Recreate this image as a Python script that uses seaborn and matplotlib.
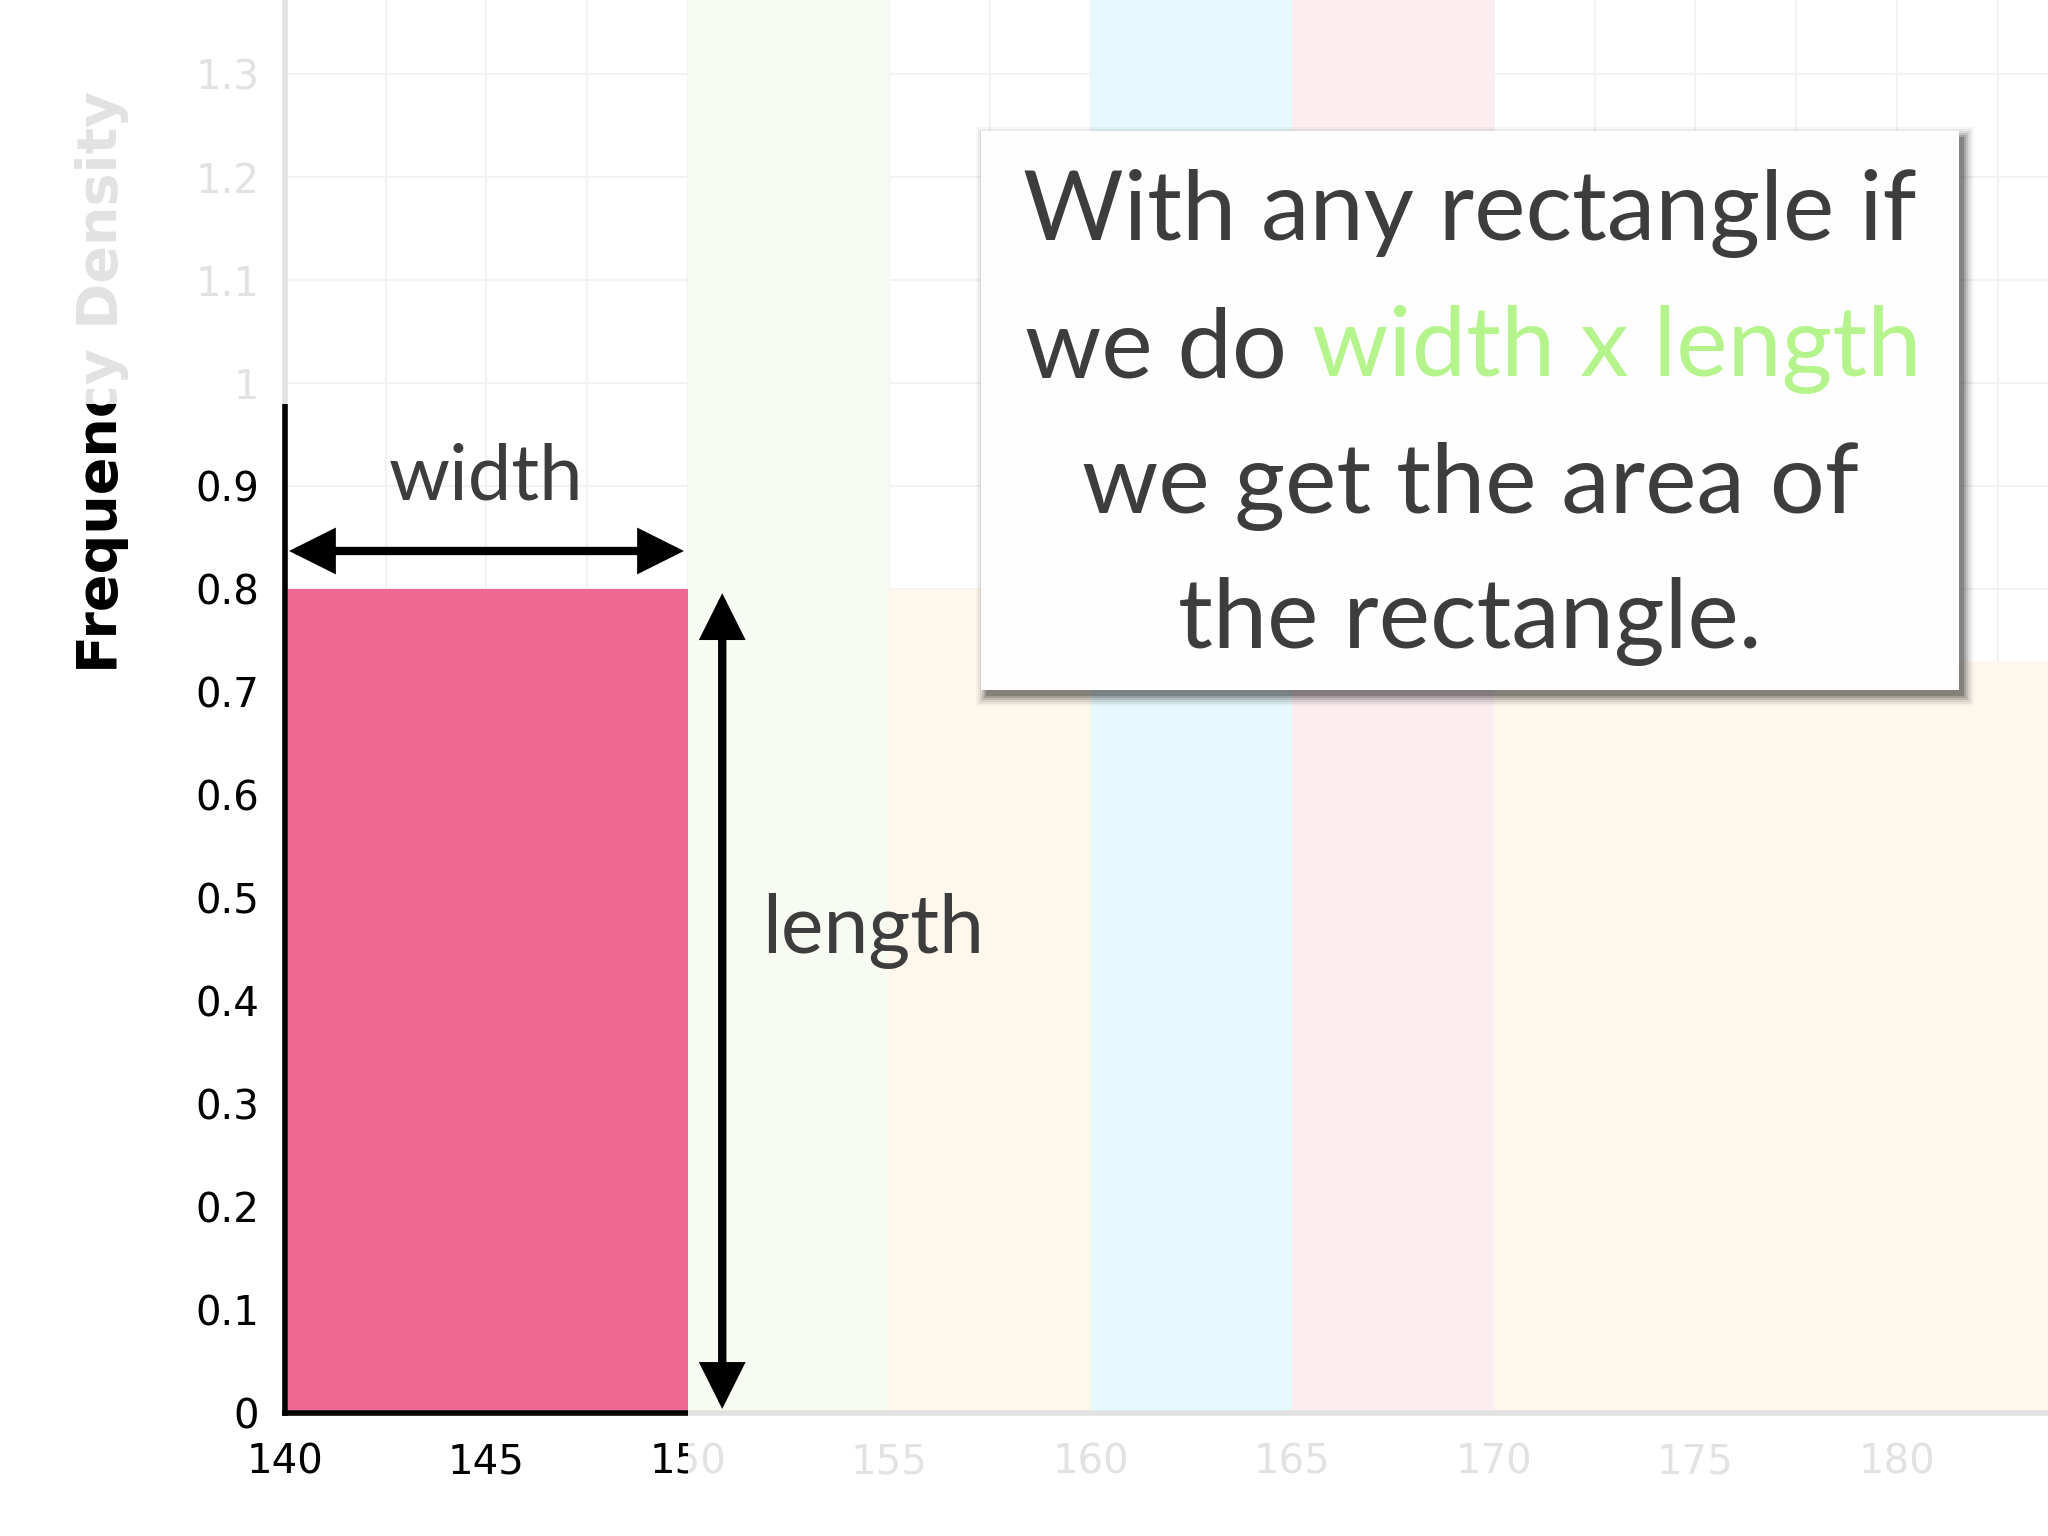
import numpy as np
import pandas as pd
import matplotlib
matplotlib.use("Agg")
import matplotlib.pyplot as plt
import seaborn as sns
from matplotlib.patches import Rectangle
from matplotlib.text import Annotation

# ---------------- data ----------------
bin_edges = [140, 150, 155, 160, 165, 170, 190]
densities = [0.8, 1.6, 0.8, 2.0, 1.5, 0.73]
groups = ["140-150", "150-155", "155-160", "160-165", "165-170", "170-190"]
bar_colors = ["#ee6893", "#f8fbf2", "#fef7ec", "#e6f9fc", "#fcedf1", "#fef7ec"]

x_ticks = [140, 142.5, 145, 147.5, 150, 152.5, 155, 157.5, 160, 162.5, 165,
           167.5, 170, 172.5, 175, 177.5, 180, 182.5]
x_tick_labels = ["140", "", "145", "", "150", "", "155", "", "160", "", "165",
                 "", "170", "", "175", "", "180", ""]
y_ticks = [0, 0.1, 0.2, 0.3, 0.4, 0.5, 0.6, 0.7, 0.8, 0.9, 1.0, 1.1, 1.2, 1.3]
y_tick_labels = ["0", "0.1", "0.2", "0.3", "0.4", "0.5", "0.6", "0.7", "0.8",
                 "0.9", "1", "1.1", "1.2", "1.3"]
y_label = "Frequency Density"

box_lines = ["With any rectangle if", "we do ", "width x length",
             "we get the area of", "the rectangle."]

# ---------------- style ----------------
sns.set_theme(style="white")
plt.rcParams["font.family"] = ["DejaVu Sans"]

GREY = "#e2e2e2"
TEXT = "#3d3d3d"
GREEN = "#b5f48c"
HAND = ["Lato", "DejaVu Sans"]

fig = plt.figure(figsize=(20.48, 15.36), dpi=100)
fig.patch.set_facecolor("white")
pos = [285 / 2048, 123 / 1536, 1763 / 2048, 1413 / 1536]
XLIM = (140, 183.75)
YLIM = (0, 1.372)

ax1 = fig.add_axes(pos)
ax2 = fig.add_axes(pos)

mids = [(a + b) / 2 for a, b in zip(bin_edges[:-1], bin_edges[1:])]
df = pd.DataFrame({"mid": mids, "density": densities, "group": groups})
sns.histplot(data=df, x="mid", weights="density", hue="group", bins=bin_edges,
             palette=dict(zip(groups, bar_colors)), hue_order=groups,
             alpha=1, linewidth=0, legend=False, ax=ax1,
             element="bars", multiple="layer", stat="count")


def style_axes(ax, color, face):
    ax.set_xlim(*XLIM)
    ax.set_ylim(*YLIM)
    ax.set_facecolor(face)
    ax.set_xticks(x_ticks)
    ax.set_xticklabels(x_tick_labels)
    ax.set_yticks(y_ticks)
    ax.set_yticklabels(y_tick_labels)
    ax.set_xlabel("")
    ax.set_ylabel(y_label, fontsize=40, fontweight="bold", color=color)
    ax.yaxis.set_label_coords(-0.1038, 0.730)
    ax.yaxis.label.set_verticalalignment("center")
    for s in ["top", "right"]:
        ax.spines[s].set_visible(False)
    for s in ["left", "bottom"]:
        ax.spines[s].set_color(color)
        ax.spines[s].set_linewidth(4)
    ax.tick_params(axis="both", direction="inout", length=19, width=3.6,
                   colors=color, labelsize=29)
    ax.tick_params(axis="y", pad=9)
    ax.tick_params(axis="x", pad=12)


style_axes(ax1, GREY, "white")
ax1.grid(True, color="#f2f2f2", linewidth=1.5)
ax1.set_axisbelow(True)

style_axes(ax2, "black", "none")
ax2.grid(False)

# reveal region (x <= 150, y <= 0.98) for the black axis copy
reveal = Rectangle((100, -5), 50, 5.98, transform=ax2.transData)
for s in ["left", "bottom"]:
    ax2.spines[s].set_clip_on(True)
    ax2.spines[s].set_clip_path(reveal)
for axis in (ax2.xaxis, ax2.yaxis):
    for t in axis.get_major_ticks():
        for art in (t.tick1line, t.tick2line, t.label1, t.label2):
            art.set_clip_on(True)
            art.set_clip_path(reveal)
ax2.yaxis.label.set_clip_on(True)
ax2.yaxis.label.set_clip_path(reveal)

# arrows
arrow_kw = dict(arrowstyle="<|-|>,head_length=0.6,head_width=0.3",
                color="black", lw=6, mutation_scale=40,
                shrinkA=0, shrinkB=0, joinstyle="miter")
ax2.annotate("", xy=(140.1, 0.837), xytext=(149.9, 0.837),
             arrowprops=arrow_kw, annotation_clip=False)
ax2.annotate("", xy=(150.85, 0.004), xytext=(150.85, 0.796),
             arrowprops=arrow_kw, annotation_clip=False)

ax2.text(145, 0.908, "width", ha="center", va="center", fontsize=56,
         color=TEXT, family=HAND)
ax2.text(154.6, 0.468, "length", ha="center", va="center", fontsize=58,
         color=TEXT, family=HAND)

# text box with drop shadow (figure coordinates)
bx0, by0, bx1, by1 = 981 / 2048, 846 / 1536, 1959 / 2048, 1405 / 1536
bw, bh = bx1 - bx0, by1 - by0
dx, dy = 5 / 2048, -6 / 1536
for grow, a in [(10, 0.03), (8, 0.05), (6, 0.07), (4, 0.10), (2, 0.14), (0, 0.2)]:
    gx, gy = grow / 2048, grow / 1536
    fig.add_artist(Rectangle((bx0 + dx - gx, by0 + dy - gy), bw + 2 * gx,
                             bh + 2 * gy, transform=fig.transFigure,
                             facecolor="black", alpha=a, edgecolor="none",
                             zorder=5))
fig.add_artist(Rectangle((bx0, by0), bw, bh, transform=fig.transFigure,
                         facecolor="#fefefe", edgecolor="none", zorder=6))

cx = (bx0 + bx1) / 2
fs = 70
fig.text(cx, 1 - 240 / 1536, box_lines[0], ha="center", va="baseline",
         fontsize=fs, color=TEXT, family=HAND, zorder=7)
t_a = fig.text(1025 / 2048, 1 - 377 / 1536, box_lines[1], ha="left",
               va="baseline", fontsize=fs, color=TEXT, family=HAND, zorder=7)
ann = Annotation(box_lines[2], xy=(1, 0), xycoords=t_a, ha="left",
                 va="bottom", fontsize=fs, color=GREEN, family=HAND,
                 zorder=7, annotation_clip=False)
fig.add_artist(ann)
fig.text(cx, 1 - 513 / 1536, box_lines[3], ha="center", va="baseline",
         fontsize=fs, color=TEXT, family=HAND, zorder=7)
fig.text(cx, 1 - 648 / 1536, box_lines[4], ha="center", va="baseline",
         fontsize=fs, color=TEXT, family=HAND, zorder=7)

fig.savefig("out.png", dpi=100, facecolor="white")
